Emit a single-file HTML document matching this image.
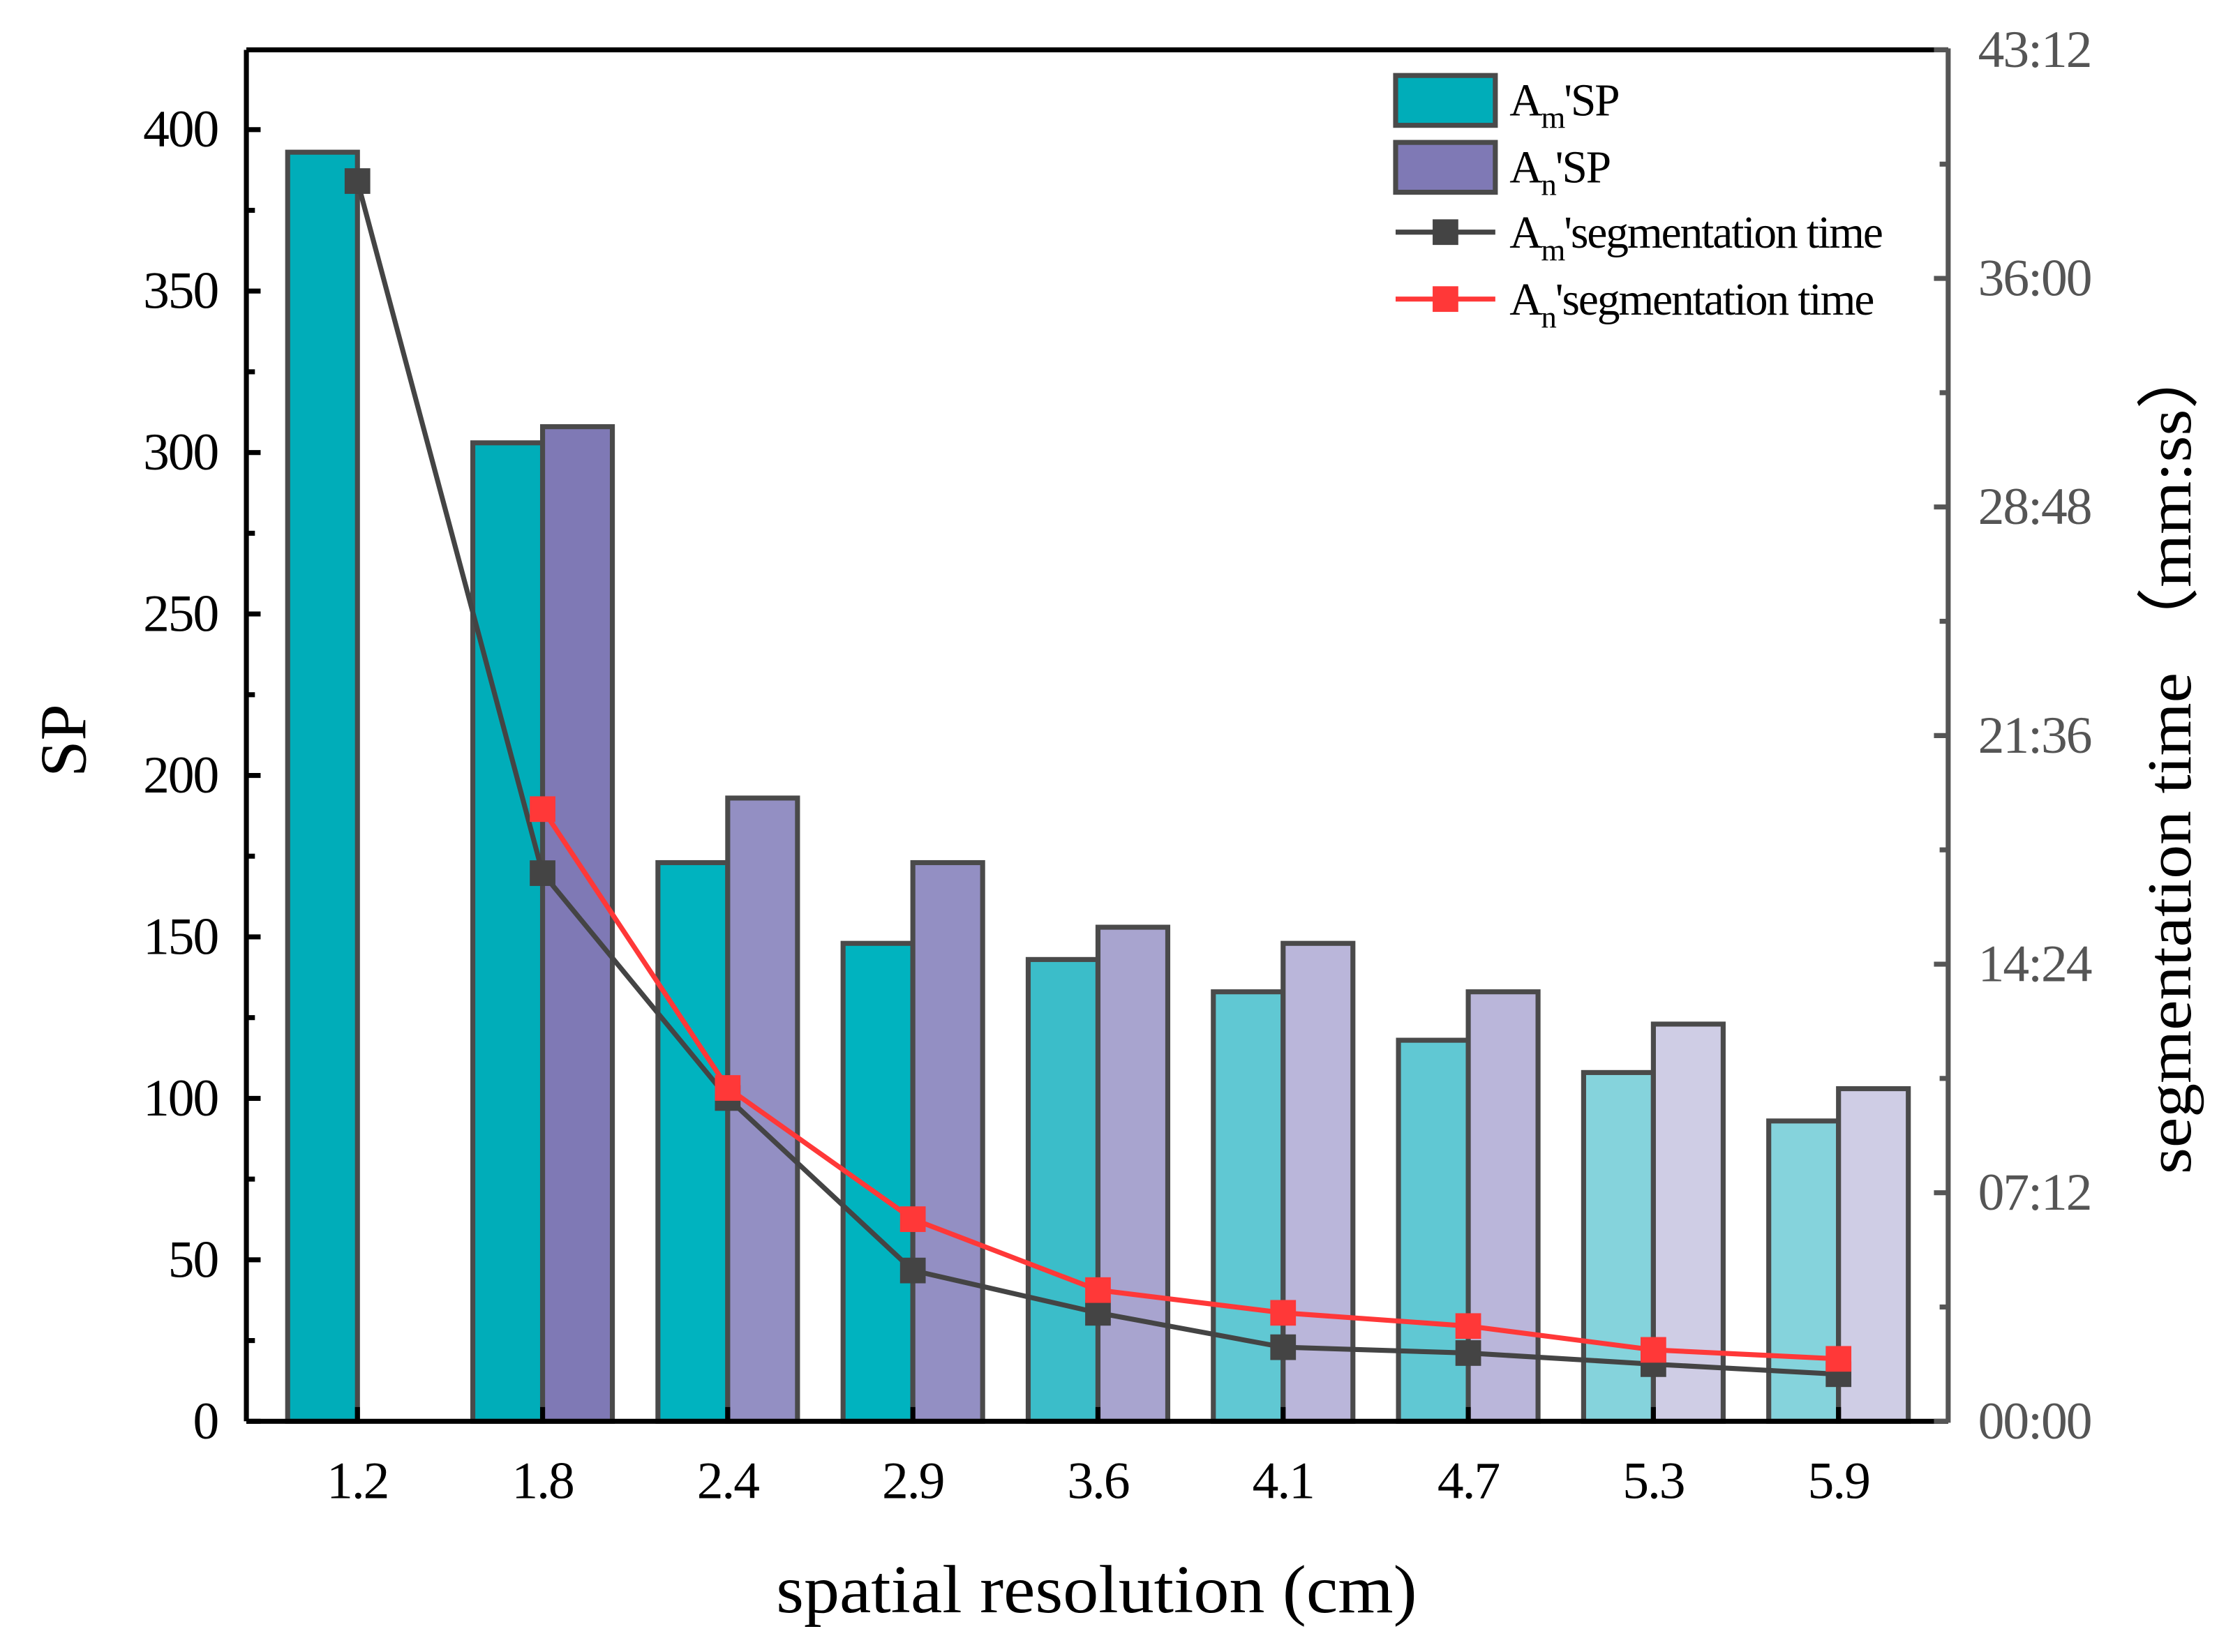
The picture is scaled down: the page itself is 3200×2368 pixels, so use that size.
<!DOCTYPE html>
<html><head><meta charset="utf-8"><style>
html,body{margin:0;padding:0;background:#fff;}
svg{display:block;}
text{font-family:"Liberation Serif",serif;}
</style></head><body>
<svg id="chart" width="3200" height="2368" viewBox="0 0 1568 1160" preserveAspectRatio="none" xmlns="http://www.w3.org/2000/svg">
<g id="bars"></g>
<g id="lines"></g>
<g id="axes"></g>
<g id="legend">
  <rect x="980" y="53" width="70" height="35" fill="#00adb9" stroke="#4a4a4a" stroke-width="3.5"/>
  <text x="1060" y="81" font-size="32" letter-spacing="-1">A<tspan font-size="22" dy="9">m</tspan><tspan dy="-9">'SP</tspan></text>
  <rect x="980" y="100" width="70" height="35" fill="#7f79b5" stroke="#4a4a4a" stroke-width="3.5"/>
  <text x="1060" y="128" font-size="32" letter-spacing="-1">A<tspan font-size="22" dy="9">n</tspan><tspan dy="-9">'SP</tspan></text>
  <line x1="980" y1="163" x2="1050" y2="163" stroke="#444" stroke-width="3.5"/>
  <rect x="1006" y="154" width="18" height="18" fill="#444"/>
  <text x="1060" y="174" font-size="32" letter-spacing="-1">A<tspan font-size="22" dy="9">m</tspan><tspan dy="-9">'segmentation time</tspan></text>
  <line x1="980" y1="210" x2="1050" y2="210" stroke="#ff3838" stroke-width="3.5"/>
  <rect x="1006" y="201" width="18" height="18" fill="#ff3838"/>
  <text x="1060" y="221" font-size="32" letter-spacing="-1">A<tspan font-size="22" dy="9">n</tspan><tspan dy="-9">'segmentation time</tspan></text>
</g>
<text x="770" y="1132" font-size="48" text-anchor="middle" textLength="450" lengthAdjust="spacingAndGlyphs">spatial resolution (cm)</text>
<text transform="translate(60,520) rotate(-90)" font-size="46" text-anchor="middle">SP</text>
<text transform="translate(1538,532) rotate(-90)" font-size="44" text-anchor="middle" textLength="585" lengthAdjust="spacingAndGlyphs">segmentation time （mm:ss）</text>
</svg>
<script>
const categories = ["1.2","1.8","2.4","2.9","3.6","4.1","4.7","5.3","5.9"];
const amSP = [393,303,173,148,143,133,118,108,93];
const anSP = [null,308,193,173,153,148,133,123,103];
const amTime = [2344,1036,611,285,205,140,129,108,89];
const anTime = [null,1157,630,382,248,205,180,135,118];
const yTicks = [0,50,100,150,200,250,300,350,400];
const rightTicks = [0,432,864,1296,1728,2160,2592];
const rightTickLabels = ["00:00","07:12","14:24","21:36","28:48","36:00","43:12"];
const amColors = ["#00adb9","#00adb9","#00b3bf","#00b3bf","#3bbdc9","#60c8d3","#60c8d3","#85d3dc","#85d3dc"];
const anColors = [null,"#7f79b5","#938fc3","#938fc3","#a8a4cf","#bab6da","#bab6da","#cfcde5","#cfcde5"];

const L=173,R=1368,T=35,B=998;
const NS="http://www.w3.org/2000/svg";
const xC=i=>251+i*130;
const yL=v=>B-v*(B-91)/400;
const yR=s=>B-s*(B-T)/2592;
function mk(tag,attrs,parent){const e=document.createElementNS(NS,tag);for(const k in attrs)e.setAttribute(k,attrs[k]);parent.appendChild(e);return e;}
const bars=document.getElementById('bars'),lines=document.getElementById('lines'),axes=document.getElementById('axes');
const bw=49;
categories.forEach((c,i)=>{
  if(amSP[i]!=null){
    const r=mk('rect',{x:xC(i)-bw,y:yL(amSP[i]),width:bw,height:B-yL(amSP[i]),fill:amColors[i],stroke:'#4a4a4a','stroke-width':3.5},bars);
    
    
  }
  if(anSP[i]!=null){
    const r=mk('rect',{x:xC(i),y:yL(anSP[i]),width:bw,height:B-yL(anSP[i]),fill:anColors[i],stroke:'#4a4a4a','stroke-width':3.5},bars);
    
    
  }
});
function series(data,color,name){
  const pts=[];data.forEach((v,i)=>{if(v!=null)pts.push([xC(i),yR(v)]);});
  const p=mk('polyline',{points:pts.map(p=>p.join(',')).join(' '),fill:'none',stroke:color,'stroke-width':3.5},lines);
  
  
  pts.forEach((q,j)=>{
    const m=mk('rect',{x:q[0]-9,y:q[1]-9,width:18,height:18,fill:color},lines);
    
    
  });
}
series(amTime,'#444444','am-time');
series(anTime,'#ff3838','an-time');
mk('line',{x1:L,y1:T,x2:R,y2:T,stroke:'#000','stroke-width':3.5},axes);
mk('line',{x1:L,y1:T,x2:L,y2:B,stroke:'#000','stroke-width':3.5},axes);
mk('line',{x1:L,y1:B,x2:R,y2:B,stroke:'#000','stroke-width':3.5},axes);
const ra=mk('line',{x1:R,y1:T-1,x2:R,y2:B+1,stroke:'#555','stroke-width':3.5},axes);


yTicks.forEach(v=>{
  mk('line',{x1:L,y1:yL(v),x2:L+10,y2:yL(v),stroke:'#000','stroke-width':3.5},axes);
  if(v<400) mk('line',{x1:L,y1:yL(v+25),x2:L+6,y2:yL(v+25),stroke:'#000','stroke-width':3.5},axes);
  const t=mk('text',{x:153,y:yL(v)+12,'font-size':37,'letter-spacing':'-1','text-anchor':'end'},axes);
  t.textContent=v;
  
  
});
rightTicks.forEach((s,i)=>{
  mk('line',{x1:R-10,y1:yR(s),x2:R,y2:yR(s),stroke:'#555','stroke-width':3.5},axes);
  if(i<rightTicks.length-1) mk('line',{x1:R-6,y1:yR(s+216),x2:R,y2:yR(s+216),stroke:'#555','stroke-width':3.5},axes);
  const t=mk('text',{x:1389,y:yR(s)+12,'font-size':37,'letter-spacing':'-1',fill:'#555'},axes);
  t.textContent=rightTickLabels[i];
  
  
});
categories.forEach((c,i)=>{
  mk('line',{x1:xC(i),y1:B,x2:xC(i),y2:B-10,stroke:'#000','stroke-width':3.5},axes);
  const t=mk('text',{x:xC(i),y:1052,'font-size':37,'letter-spacing':'-1','text-anchor':'middle'},axes);
  t.textContent=c;
  
  
});
</script>
</body></html>
